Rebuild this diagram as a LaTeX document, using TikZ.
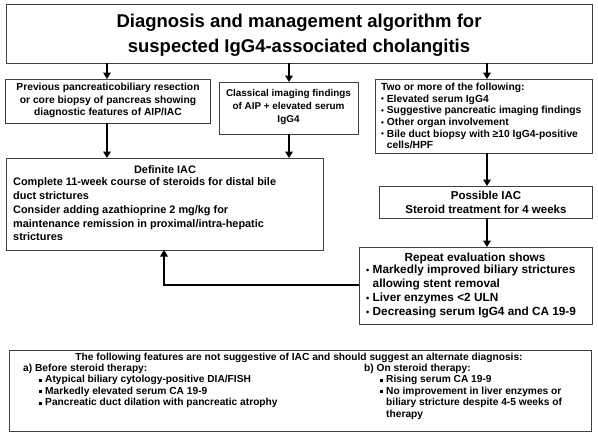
\documentclass[tikz,border=0pt]{standalone}
\usepackage{graphicx}
\usepackage{fontspec}
\setmainfont{Liberation Sans}
\usetikzlibrary{arrows.meta}
\newcommand{\dotb}{\raisebox{0.05ex}{\scalebox{0.78}{\textbullet}}}
\newcommand{\sqb}{\raisebox{0.2ex}{\rule{3.2pt}{3.2pt}}}
\begin{document}
\begin{tikzpicture}[x=1pt,y=-1pt,
  box/.style={draw=black!75,line width=0.8pt,fill=white},
  conn/.style={line width=2.2pt,-{Triangle[length=6.5pt,width=7.5pt]}},
  txt/.style={inner sep=0pt,font=\bfseries,align=center},
]
\useasboundingbox (0,0) rectangle (598,437);
% title
\draw[box] (6,4) rectangle (592,63);
\node[txt,font=\bfseries\fontsize{18.5}{25}\selectfont] (title) at (299,35.5) {Diagnosis and management algorithm for\\suspected IgG4-associated cholangitis};
\coordinate (tA) at (107,63); \coordinate (tB) at (289,63); \coordinate (tC) at (487,63);
% box A
\draw[box] (5,79) rectangle (210,123);
\node[txt,font=\bfseries\fontsize{10.3}{12.4}\selectfont] (A) at (108,100.5) {Previous pancreaticobiliary resection\\or core biopsy of pancreas showing\\diagnostic features of AIP/IAC};
\coordinate (Ab) at (107,123);
% box B
\draw[box] (219,82) rectangle (358,134);
\node[txt,font=\bfseries\fontsize{9.9}{13.2}\selectfont] (B) at (288.5,107) {Classical imaging findings\\of AIP + elevated serum\\IgG4};
\coordinate (Bb) at (289,134);
% box C
\draw[box] (375,79) rectangle (592,153);
\node[txt,align=left,font=\bfseries\fontsize{10.3}{11.6}\selectfont,anchor=west] (C) at (381,116) {Two or more of the following:\\
\dotb\ Elevated serum IgG4\\
\dotb\ Suggestive pancreatic imaging findings\\
\dotb\ Other organ involvement\\
\dotb\ Bile duct biopsy with ≥10 IgG4-positive\\
\phantom{\dotb}\ cells/HPF};
\coordinate (Cb) at (487,153);
% definite
\draw[box] (6,158) rectangle (323,250);
\node[txt,font=\bfseries\fontsize{10.9}{13.8}\selectfont] (D) at (165,169.5) {Definite IAC};
\node[txt,align=left,anchor=north west,font=\bfseries\fontsize{10.9}{13.8}\selectfont] (D2) at (13,177.5) {Complete 11-week course of steroids for distal bile\\duct strictures\\Consider adding azathioprine 2 mg/kg for\\maintenance remission in proximal/intra-hepatic\\strictures};
\coordinate (Dt1) at (107,158); \coordinate (Dt2) at (289,158); \coordinate (Db) at (164,250);
% possible
\draw[box] (379,186) rectangle (592,218);
\node[txt,font=\bfseries\fontsize{11.5}{14}\selectfont] (P) at (486,202.5) {Possible IAC\\Steroid treatment for 4 weeks};
\coordinate (Pt) at (487,186); \coordinate (Pb) at (487,218);
% repeat
\draw[box] (359,247) rectangle (592,324);
\node[txt,font=\bfseries\fontsize{11.8}{14}\selectfont] (R) at (475,258) {Repeat evaluation shows};
\node[txt,align=left,anchor=north west,font=\bfseries\fontsize{11.8}{14}\selectfont] (R2) at (366,265) {\dotb\ Markedly improved biliary strictures\\
\phantom{\dotb}\ allowing stent removal\\
\dotb\ Liver enzymes <2 ULN\\
\dotb\ Decreasing serum IgG4 and CA 19-9};
\coordinate (Rt) at (487,247); \coordinate (Rl) at (359,285);
% bottom box
\draw[box] (9,350) rectangle (591,431);
\node[txt,font=\bfseries\fontsize{10.2}{11.4}\selectfont] (F) at (299,357.5) {The following features are not suggestive of IAC and should suggest an alternate diagnosis:};
\node[txt,align=left,anchor=north west,font=\bfseries\fontsize{10.2}{11.4}\selectfont] (Fa) at (23,364) {a) Before steroid therapy:\\
\hspace*{16pt}\sqb\ Atypical biliary cytology-positive DIA/FISH\\
\hspace*{16pt}\sqb\ Markedly elevated serum CA 19-9\\
\hspace*{16pt}\sqb\ Pancreatic duct dilation with pancreatic atrophy};
\node[txt,align=left,anchor=north west,font=\bfseries\fontsize{10.2}{11.4}\selectfont] (Fb) at (364,364) {b) On steroid therapy:\\
\hspace*{16pt}\sqb\ Rising serum CA 19-9\\
\hspace*{16pt}\sqb\ No improvement in liver enzymes or\\
\hspace*{16pt}\phantom{\sqb\ }biliary stricture despite 4-5 weeks of\\
\hspace*{16pt}\phantom{\sqb\ }therapy};
% connectors
\draw[conn] (tA) -- (107,79);
\draw[conn] (tB) -- (289,82);
\draw[conn] (tC) -- (487,79);
\draw[conn] (Ab) -- (Dt1);
\draw[conn] (Bb) -- (Dt2);
\draw[conn] (Cb) -- (Pt);
\draw[conn] (Pb) -- (Rt);
\draw[conn] (Rl) -| (Db);
\end{tikzpicture}
\end{document}
